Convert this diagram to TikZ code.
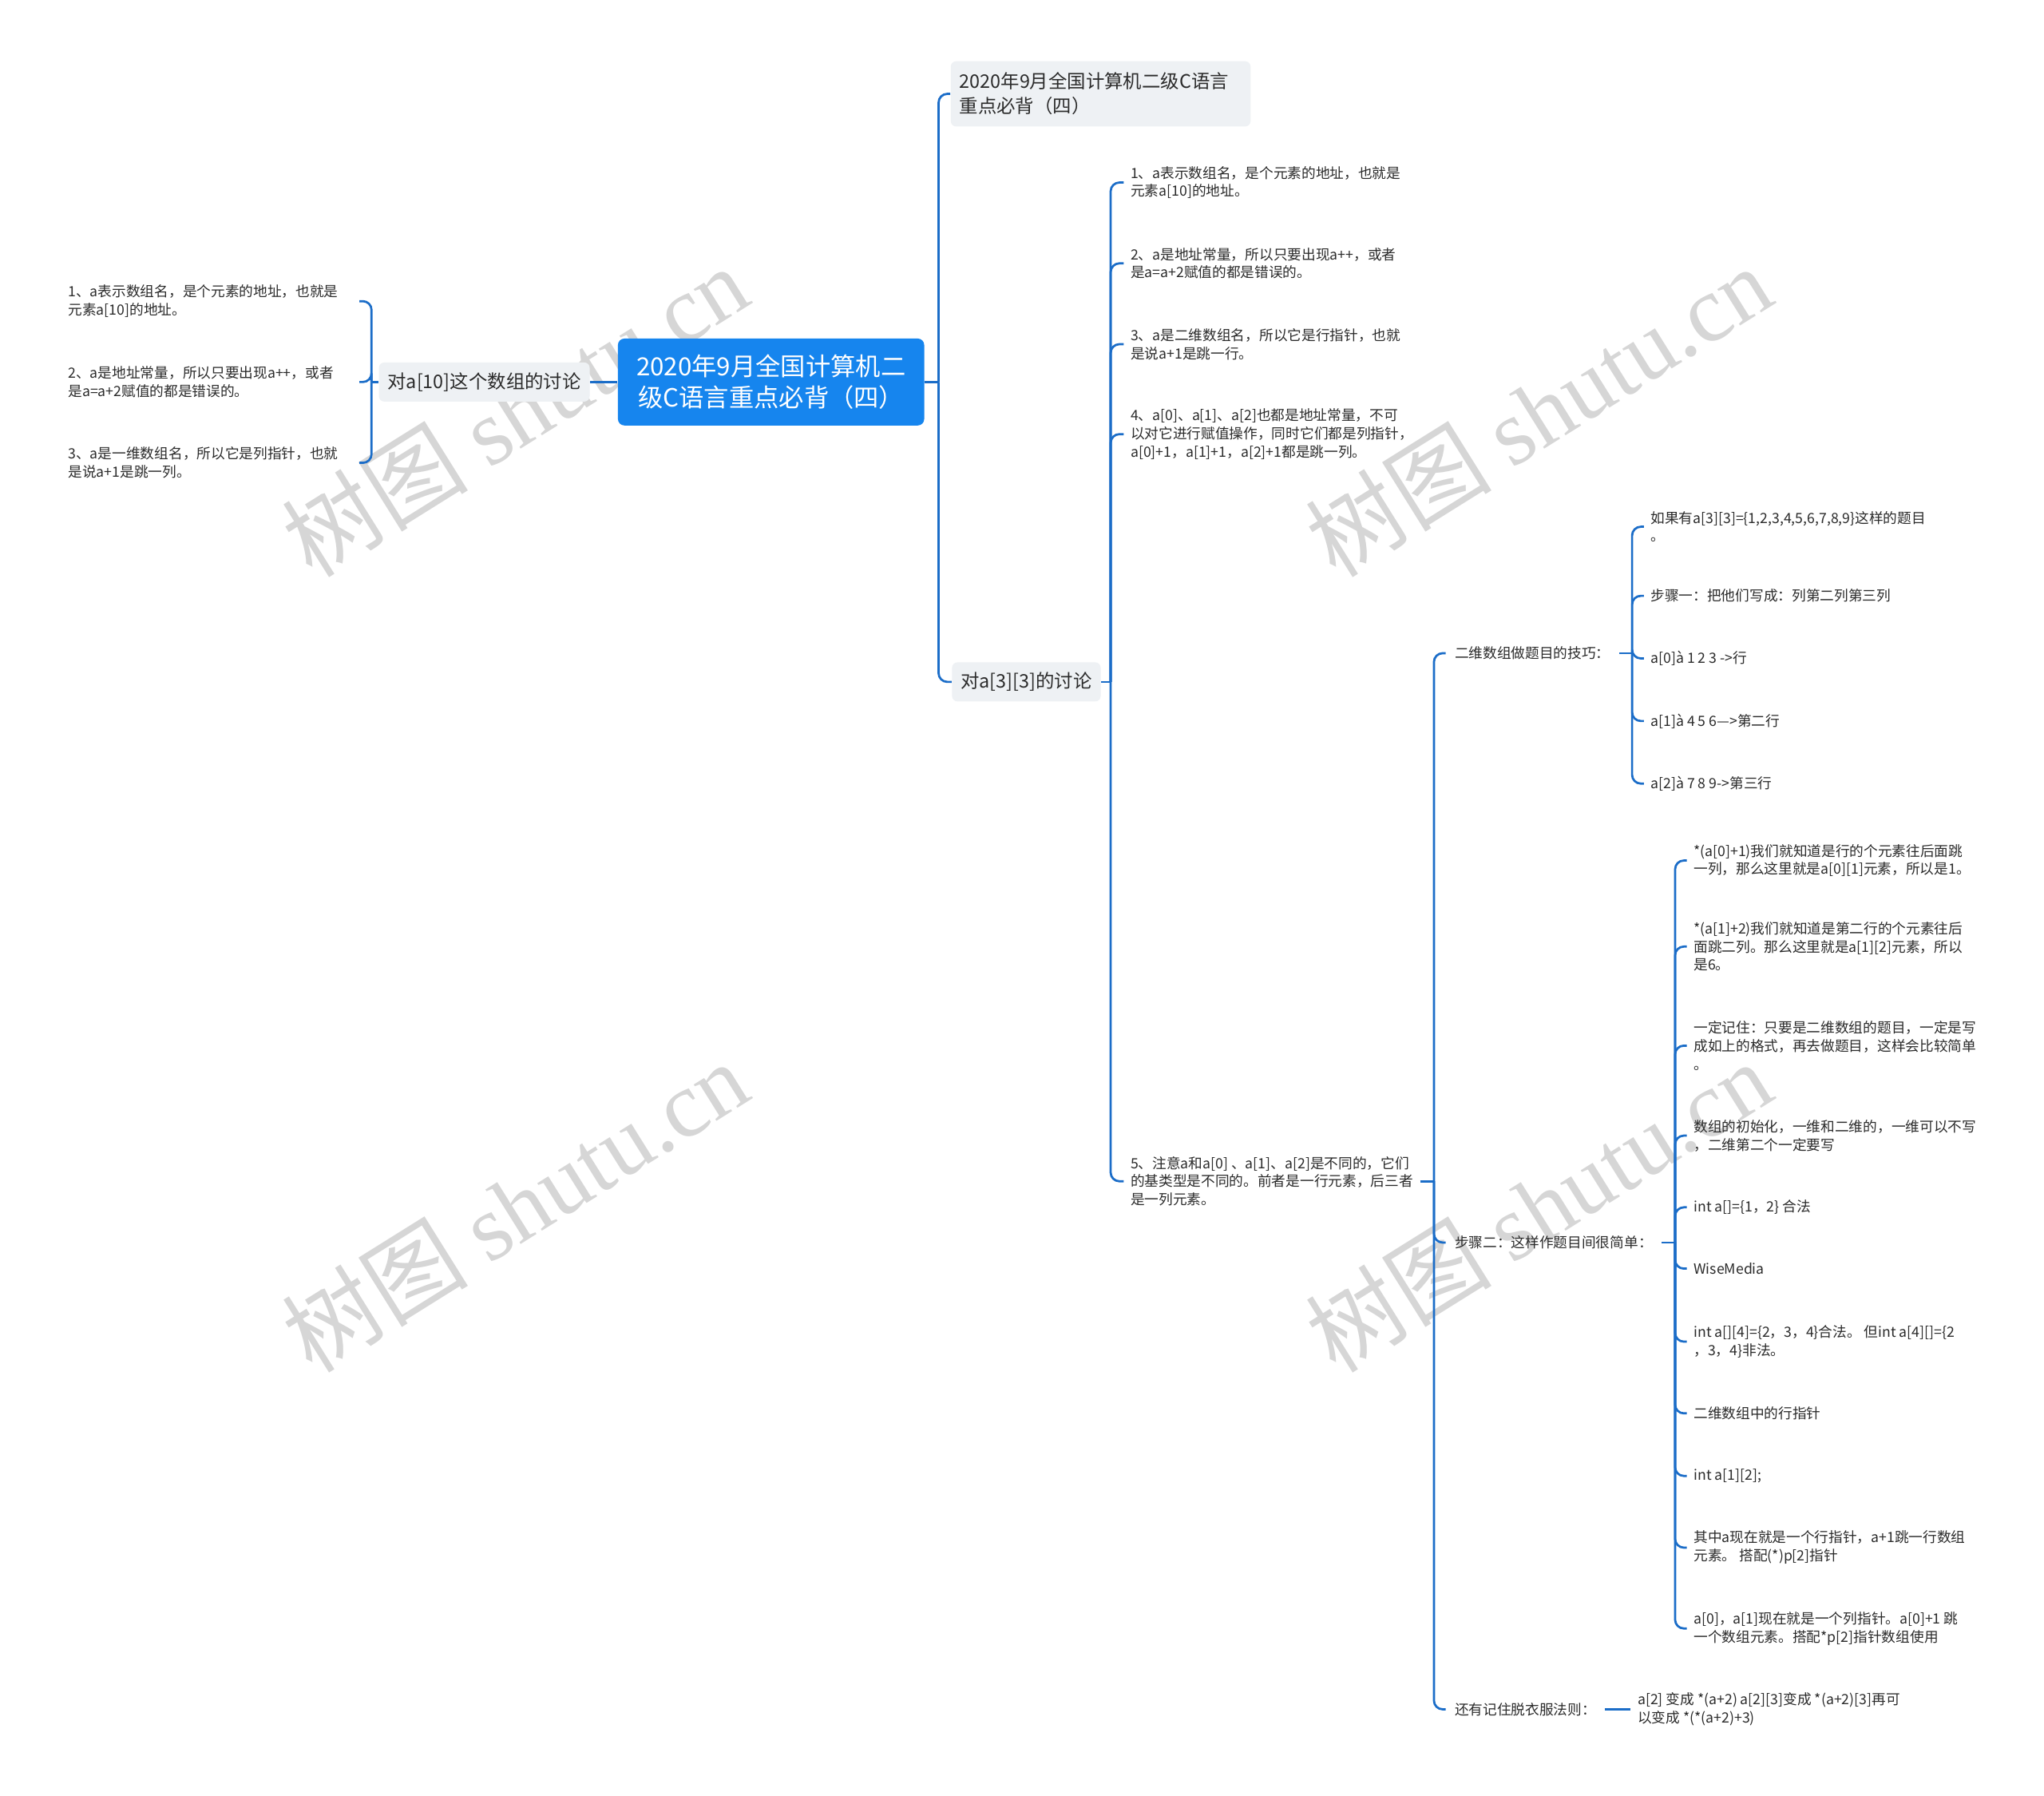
\documentclass[tikz,border=0pt]{standalone}
\usepackage{fontspec}
\setmainfont{Noto Sans CJK SC}
\newfontfamily\wmlatin{Liberation Serif}
\usetikzlibrary{positioning}
\definecolor{rootblue}{HTML}{1685EE}
\definecolor{linkblue}{HTML}{1B6DC8}
\definecolor{topicgray}{HTML}{EEF1F4}
\definecolor{ink}{HTML}{2B2B2B}

\begin{document}
\begin{tikzpicture}[x=0.6pt,y=-0.6pt,
  root/.style={fill=rootblue,text=white,rounded corners=3pt,align=center,minimum width=141pt,minimum height=40pt,inner sep=2pt,font=\fontsize{11.5}{14.4}\selectfont},
  topic/.style={fill=topicgray,text=ink,rounded corners=2.5pt,align=left,inner xsep=4pt,minimum height=18pt,font=\fontsize{8.6}{11.4}\selectfont},
  leaf/.style={text=ink,align=left,inner xsep=3pt,inner ysep=1pt,font=\fontsize{6.5}{8.4}\selectfont},
  sub/.style={leaf,inner xsep=4pt},
  conn/.style={draw=linkblue,line width=1pt,rounded corners=4pt},
  wm/.style={rotate=32,text=black!16,font=\fontsize{43}{43}\selectfont}]
\fill[white] (0,0) rectangle (1568,1377);
\useasboundingbox (0,0) rectangle (1568,1377);

\node[wm] (wm1) at (395,315) {树图 {\wmlatin shutu.cn}};
\node[wm] (wm2) at (1180,315) {树图 {\wmlatin shutu.cn}};
\node[wm] (wm3) at (395,925) {树图 {\wmlatin shutu.cn}};
\node[wm] (wm4) at (1180,925) {树图 {\wmlatin shutu.cn}};

\node[root] (root) at (591.5,293) {2020年9月全国计算机二\\级C语言重点必背（四）};
\node[topic,left=12.6pt of root] (t10) {对a[10]这个数组的讨论};
\node[topic,text width=130pt,minimum height=30pt,anchor=west] (top) at (729,72) {2020年9月全国计算机二级C语言\\重点必背（四）};
\node[topic,anchor=west] (t33) at (730,523) {对a[3][3]的讨论};

\node[leaf,text width=130.8pt,anchor=west] (l1) at (47,231) {1、a表示数组名，是个元素的地址，也就是\\元素a[10]的地址。};
\node[leaf,text width=130.8pt,anchor=west] (l2) at (47,293) {2、a是地址常量，所以只要出现a++，或者\\是a=a+2赋值的都是错误的。};
\node[leaf,text width=130.8pt,anchor=west] (l3) at (47,355) {3、a是一维数组名，所以它是列指针，也就\\是说a+1是跳一列。};

\node[leaf,anchor=west] (r1) at (862,140) {1、a表示数组名，是个元素的地址，也就是\\元素a[10]的地址。};
\node[leaf,anchor=west] (r2) at (862,202) {2、a是地址常量，所以只要出现a++，或者\\是a=a+2赋值的都是错误的。};
\node[leaf,anchor=west] (r3) at (862,264) {3、a是二维数组名，所以它是行指针，也就\\是说a+1是跳一行。};
\node[leaf,anchor=west] (r4) at (862,333) {4、a[0]、a[1]、a[2]也都是地址常量，不可\\以对它进行赋值操作，同时它们都是列指针，\\a[0]+1，a[1]+1，a[2]+1都是跳一列。};
\node[leaf,anchor=west] (r5) at (862,906) {5、注意a和a[0] 、a[1]、a[2]是不同的，它们\\的基类型是不同的。前者是一行元素，后三者\\是一列元素。};

\node[sub,anchor=west] (s1) at (1109,501) {二维数组做题目的技巧：};
\node[sub,anchor=west] (s2) at (1109,953) {步骤二：这样作题目间很简单：};
\node[sub,anchor=west] (s3) at (1109,1311) {还有记住脱衣服法则：};

\node[leaf,anchor=west] (t1) at (1261,404) {如果有a[3][3]=\{1,2,3,4,5,6,7,8,9\}这样的题目\\。};
\node[leaf,anchor=west] (t2) at (1261,457) {步骤一：把他们写成：列第二列第三列};
\node[leaf,anchor=west] (t3) at (1261,505) {a[0]à 1 2 3 ->行};
\node[leaf,anchor=west] (t4) at (1261,553) {a[1]à 4 5 6—>第二行};
\node[leaf,anchor=west] (t5) at (1261,601) {a[2]à 7 8 9->第三行};

\node[leaf,anchor=west] (u1) at (1294,660) {*(a[0]+1)我们就知道是行的个元素往后面跳\\一列，那么这里就是a[0][1]元素，所以是1。};
\node[leaf,anchor=west] (u2) at (1294,726) {*(a[1]+2)我们就知道是第二行的个元素往后\\面跳二列。那么这里就是a[1][2]元素，所以\\是6。};
\node[leaf,anchor=west] (u3) at (1294,802) {一定记住：只要是二维数组的题目，一定是写\\成如上的格式，再去做题目，这样会比较简单\\。};
\node[leaf,anchor=west] (u4) at (1294,871) {数组的初始化，一维和二维的，一维可以不写\\，二维第二个一定要写};
\node[leaf,anchor=west] (u5) at (1294,926) {int a[]=\{1，2\} 合法};
\node[leaf,anchor=west] (u6) at (1294,973) {WiseMedia};
\node[leaf,anchor=west] (u7) at (1294,1029) {int a[][4]=\{2，3，4\}合法。 但int a[4][]=\{2\\，3，4\}非法。};
\node[leaf,anchor=west] (u8) at (1294,1084) {二维数组中的行指针};
\node[leaf,anchor=west] (u9) at (1294,1132) {int a[1][2];};
\node[leaf,anchor=west] (u10) at (1294,1187) {其中a现在就是一个行指针，a+1跳一行数组\\元素。 搭配(*)p[2]指针};
\node[leaf,anchor=west] (u11) at (1294,1249) {a[0]，a[1]现在就是一个列指针。a[0]+1 跳\\一个数组元素。搭配*p[2]指针数组使用};

\node[leaf,anchor=west] (v1) at (1251,1311) {a[2] 变成 *(a+2) a[2][3]变成 *(a+2)[3]再可\\以变成 *(*(a+2)+3)};

\coordinate (jl) at (285,293);
\coordinate (jr) at (720,293);
\coordinate (j33) at (852,523);
\coordinate (j5) at (1100,906);
\coordinate (js1) at (1252,501);
\coordinate (js2) at (1285,953);

\draw[conn] (root.west) -- (t10.east);
\draw[conn] (t10.west) -- (jl);
\foreach \n in {l1,l2,l3} \draw[conn] (jl) |- (\n.east);
\draw[conn] (root.east) -- (jr);
\foreach \n in {top,t33} \draw[conn] (jr) |- (\n.west);
\draw[conn] (t33.east) -- (j33);
\foreach \n in {r1,r2,r3,r4,r5} \draw[conn] (j33) |- (\n.west);
\draw[conn] (r5.east) -- (j5);
\foreach \n in {s1,s2,s3} \draw[conn] (j5) |- (\n.west);
\draw[conn] (s1.east) -- (js1);
\foreach \n in {1,...,5} \draw[conn] (js1) |- (t\n.west);
\draw[conn] (s2.east) -- (js2);
\foreach \n in {1,...,11} \draw[conn] (js2) |- (u\n.west);
\draw[conn] (s3.east) -- (v1.west);
\end{tikzpicture}
\end{document}
